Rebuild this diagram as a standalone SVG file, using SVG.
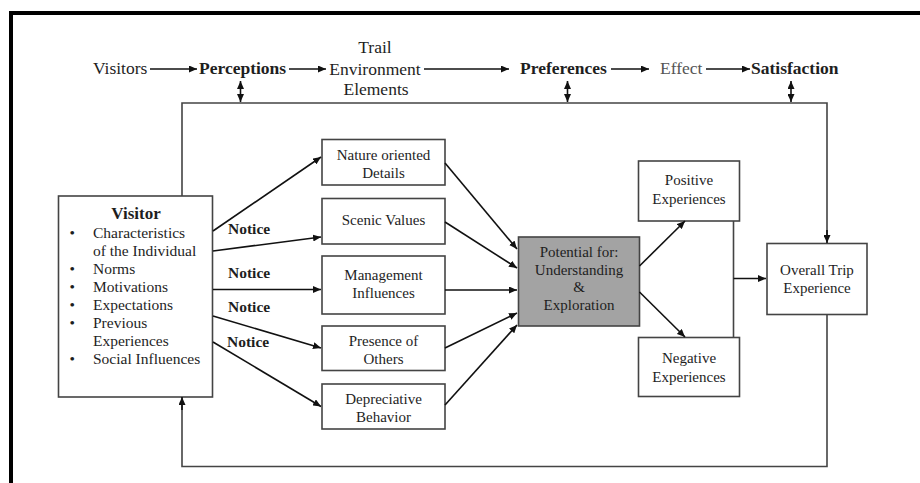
<svg xmlns="http://www.w3.org/2000/svg" width="920" height="483" viewBox="0 0 920 483">
<defs>
<marker id="ah" markerUnits="userSpaceOnUse" markerWidth="9" markerHeight="7" refX="8" refY="3.5" orient="auto-start-reverse">
<path d="M0,0 L8,3.5 L0,7 z" fill="#111"/>
</marker>
</defs>
<style>
text{font-family:"Liberation Serif","Times New Roman",serif;fill:#1e1e1e;}
.t{font-size:17.5px;}
.tb{font-size:17.5px;font-weight:bold;}
.vb{font-size:17px;font-weight:bold;}
.b{font-size:15px;}
.l{font-size:15.5px;}
.nb{font-size:15.5px;font-weight:bold;}
.m{text-anchor:middle;}
.box{fill:#fff;stroke:#444;stroke-width:1.6;}
.gbox{fill:#a3a3a3;stroke:#444;stroke-width:1.6;}
.a{fill:none;stroke:#111;stroke-width:1.6;marker-end:url(#ah);}
.d{fill:none;stroke:#111;stroke-width:1.6;marker-end:url(#ah);marker-start:url(#ah);}
.f{fill:none;stroke:#444;stroke-width:1.6;}
</style>
<rect width="920" height="483" fill="#fff"/>
<path d="M11,490 L11,13 L925,13" fill="none" stroke="#000" stroke-width="4"/>

<g id="header">
<text class="t" x="93" y="74">Visitors</text>
<text class="tb" x="199" y="74">Perceptions</text>
<text class="t m" x="375" y="53">Trail</text>
<text class="t m" x="375" y="75">Environment</text>
<text class="t m" x="376" y="95">Elements</text>
<text class="tb" x="520" y="74">Preferences</text>
<text class="t" x="660" y="74" style="fill:#555">Effect</text>
<text class="tb" x="751" y="74">Satisfaction</text>
</g>

<g id="visitor">
<rect class="box" x="58.5" y="196" width="154" height="201"/>
<text class="vb m" x="136" y="219">Visitor</text>
<text class="l" x="69.5" y="238">•</text>
<text class="l" x="93" y="238">Characteristics</text>
<text class="l" x="93" y="256">of the Individual</text>
<text class="l" x="69.5" y="274">•</text>
<text class="l" x="93" y="274">Norms</text>
<text class="l" x="69.5" y="292">•</text>
<text class="l" x="93" y="292">Motivations</text>
<text class="l" x="69.5" y="310">•</text>
<text class="l" x="93" y="310">Expectations</text>
<text class="l" x="69.5" y="328">•</text>
<text class="l" x="93" y="328">Previous</text>
<text class="l" x="93" y="346">Experiences</text>
<text class="l" x="69.5" y="364">•</text>
<text class="l" x="93" y="364">Social Influences</text>
</g>

<g id="nature">
<rect class="box" x="322" y="139.5" width="123" height="45.5"/>
<text class="b m" x="383.5" y="160">Nature oriented</text>
<text class="b m" x="383.5" y="178">Details</text>
</g>
<g id="scenic">
<rect class="box" x="322" y="198.5" width="123" height="45.5"/>
<text class="b m" x="383.5" y="225">Scenic Values</text>
</g>
<g id="management">
<rect class="box" x="322" y="256" width="123" height="58"/>
<text class="b m" x="383.5" y="280">Management</text>
<text class="b m" x="383.5" y="298">Influences</text>
</g>
<g id="presence">
<rect class="box" x="322" y="326" width="123" height="44.5"/>
<text class="b m" x="383.5" y="346">Presence of</text>
<text class="b m" x="383.5" y="364">Others</text>
</g>
<g id="depreciative">
<rect class="box" x="322" y="384" width="123" height="45"/>
<text class="b m" x="383.5" y="404">Depreciative</text>
<text class="b m" x="383.5" y="422">Behavior</text>
</g>

<g id="potential">
<rect class="gbox" x="518.5" y="237" width="121" height="89"/>
<text class="b m" x="579" y="257">Potential for:</text>
<text class="b m" x="579" y="275">Understanding</text>
<text class="b m" x="579" y="292">&amp;</text>
<text class="b m" x="579" y="310">Exploration</text>
</g>

<g id="positive">
<rect class="box" x="638.5" y="161" width="101" height="60"/>
<text class="b m" x="689" y="185">Positive</text>
<text class="b m" x="689" y="204">Experiences</text>
</g>
<g id="negative">
<rect class="box" x="638.5" y="337.5" width="101" height="59"/>
<text class="b m" x="689" y="363">Negative</text>
<text class="b m" x="689" y="382">Experiences</text>
</g>
<g id="overall">
<rect class="box" x="767" y="243.5" width="100" height="71"/>
<text class="b m" x="817" y="275">Overall Trip</text>
<text class="b m" x="817" y="293">Experience</text>
</g>

<g id="connectors">
<line class="a" x1="150" y1="69" x2="197" y2="69"/>
<line class="a" x1="289" y1="69" x2="326" y2="69"/>
<line class="a" x1="424" y1="69" x2="509" y2="69"/>
<line class="a" x1="611" y1="69" x2="649" y2="69"/>
<line class="a" x1="706" y1="69" x2="750" y2="69"/>
<line class="d" x1="240.5" y1="81" x2="240.5" y2="102"/>
<line class="d" x1="567.5" y1="81" x2="567.5" y2="102"/>
<line class="d" x1="791" y1="81" x2="791" y2="102"/>
<polyline class="f" points="182,196 182,103 827,103 827,236"/>
<line class="a" x1="827" y1="230" x2="827" y2="243"/>
<polyline class="f" points="827,314.5 827,466.5 182,466.5 182,404"/>
<line class="a" x1="182" y1="410" x2="182" y2="397"/>
<line class="a" x1="213" y1="231" x2="321" y2="157"/>
<line class="a" x1="213" y1="251" x2="321" y2="237"/>
<line class="a" x1="213" y1="289.5" x2="321" y2="289.5"/>
<line class="a" x1="213" y1="316" x2="321" y2="348"/>
<line class="a" x1="213" y1="342" x2="321" y2="406.5"/>
<line class="a" x1="445" y1="163" x2="517" y2="249"/>
<line class="a" x1="445" y1="222" x2="517" y2="268"/>
<line class="a" x1="445" y1="290" x2="517" y2="290"/>
<line class="a" x1="445" y1="348" x2="517" y2="313"/>
<line class="a" x1="445" y1="405" x2="517" y2="325"/>
<line class="a" x1="639.5" y1="266" x2="685" y2="221"/>
<line class="a" x1="639.5" y1="292" x2="685" y2="337"/>
<line class="f" x1="733.5" y1="221" x2="733.5" y2="337.5"/>
<line class="a" x1="733.5" y1="278.5" x2="766" y2="278.5"/>
</g>
<g id="labels">
<text class="nb" x="228" y="234">Notice</text>
<text class="nb" x="228" y="278">Notice</text>
<text class="nb" x="228" y="312">Notice</text>
<text class="nb" x="227" y="347">Notice</text>
</g>
</svg>
